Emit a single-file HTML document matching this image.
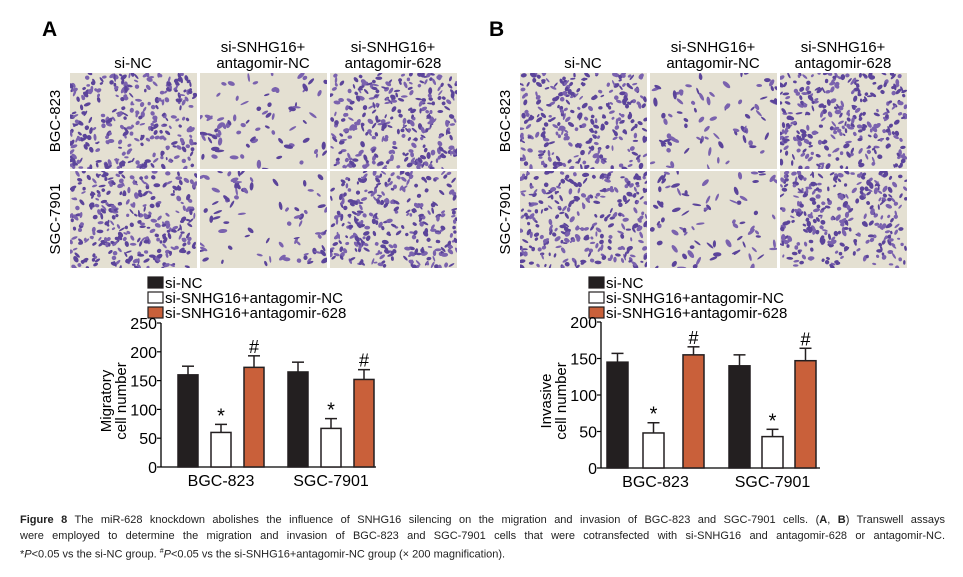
<!DOCTYPE html>
<html><head><meta charset="utf-8">
<style>
body{margin:0;background:#fff;width:963px;height:577px;overflow:hidden;font-family:"Liberation Sans",sans-serif;}
svg{position:absolute;left:0;top:0}
.cap{position:absolute;left:20px;width:925px;font-size:11px;line-height:16px;color:#222;white-space:nowrap}
.j{text-align:justify;text-align-last:justify}
</style></head><body>
<svg id="fig" width="963" height="577" font-family="Liberation Sans, sans-serif"></svg>
<div class="cap j" style="top:512px"><b>Figure 8</b> The miR-628 knockdown abolishes the influence of SNHG16 silencing on the migration and invasion of BGC-823 and SGC-7901 cells. (<b>A</b>, <b>B</b>) Transwell assays</div>
<div class="cap j" style="top:528px">were employed to determine the migration and invasion of BGC-823 and SGC-7901 cells that were cotransfected with si-SNHG16 and antagomir-628 or antagomir-NC.</div>
<div class="cap" style="top:544px">*<i>P</i>&lt;0.05 vs the si-NC group. <sup style="font-size:7px">#</sup><i>P</i>&lt;0.05 vs the si-SNHG16+antagomir-NC group (× 200 magnification).</div>
<script>
// Chart data
const groups = ["BGC-823","SGC-7901"];
const seriesNames = ["si-NC","si-SNHG16+antagomir-NC","si-SNHG16+antagomir-628"];
const migValues = [[160,60,173],[165,67,152]];
const migErrors = [[15,14,20],[17,17,17]];
const invValues = [[145,48,155],[140,43,147]];
const invErrors = [[12,14,11],[15,10,17]];
const migTicks = [0,50,100,150,200,250];
const invTicks = [0,50,100,150,200];
const marks = ["","*","#"];

const NS="http://www.w3.org/2000/svg";
const svg=document.getElementById('fig');
function el(tag,attrs,parent){const e=document.createElementNS(NS,tag);for(const k in attrs)e.setAttribute(k,attrs[k]);(parent||svg).appendChild(e);return e;}
function txt(s,attrs,parent){const e=el('text',attrs,parent);e.textContent=s;return e;}

// seeded PRNG for decorative micrograph texture
let seed=12345;function rnd(){seed=(seed*1103515245+12345)%2147483648;return seed/2147483648;}

function micro(x,y,w,h,n,big,name){
  const g=el('g',{});
  
  
  el('rect',{x:x,y:y,width:w,height:h,fill:'#e4e0d2'},g);
  const cp='c'+Math.floor(rnd()*1e6);
  const c=el('clipPath',{id:cp},g);el('rect',{x:x,y:y,width:w,height:h},c);
  const gg=el('g',{'clip-path':`url(#${cp})`},g);
  for(let i=0;i<n;i++){
    const cx=x+rnd()*w, cy=y+rnd()*h;
    const rx=(big?2.2:1.6)+rnd()*(big?2.5:2), ry=0.9+rnd()*1.4;
    el('ellipse',{cx:cx.toFixed(1),cy:cy.toFixed(1),rx:rx.toFixed(1),ry:ry.toFixed(1),transform:`rotate(${(rnd()*180).toFixed(0)} ${cx.toFixed(1)} ${cy.toFixed(1)})`,fill:rnd()<0.5?'#5b449a':'#7a62ae'},gg);
  }
}

function panel(ox,letter,rowN){
  txt(letter,{x:ox+(letter=="A"?-28:-31),y:36,'font-size':21,'font-weight':'bold'});
  const xs=[ox,ox+130,ox+260];
  const cols=[["si-NC"],["si-SNHG16+","antagomir-NC"],["si-SNHG16+","antagomir-628"]];
  cols.forEach((c,i)=>{
    c.forEach((s,j)=>{
      const t=txt(s,{x:xs[i]+63,y:c.length==1?68:(52+j*16),'font-size':15,'text-anchor':'middle'});
      
      
    });
  });
  const rows=["BGC-823","SGC-7901"];
  rows.forEach((r,j)=>{
    const cy=j==0?121:219;
    const t=txt(r,{x:0,y:0,'font-size':15,'text-anchor':'middle',transform:`translate(${ox-10},${cy}) rotate(-90)`});
    
    
    xs.forEach((x,i)=>micro(x,j==0?73:171,127,j==0?96:97,rowN[i],i==1,'micrograph'));
  });
}
panel(70,"A",[300,75,290]);
panel(520,"B",[280,80,290]);

const colors=['#231f20','#ffffff','#c9603a'];
function chart(cfg){
  const {axX,y0,yTop,max,ticks,vals,errs,barX,barW,endX,legX,title}=cfg;
  const ys=v=>y0-(v/max)*(y0-yTop);
  seriesNames.forEach((s,i)=>{
    const cy=283+i*15;
    const r=el('rect',{x:legX,y:cy-6,width:15,height:11,fill:colors[i],stroke:'#231f20','stroke-width':1.2});
    
    
    const t=txt(s,{x:legX+17,y:cy+5,'font-size':15});
    
    
  });
  const ya=el('line',{x1:axX,y1:yTop,x2:axX,y2:y0,stroke:'#000','stroke-width':1.3});
  
  
  const xa=el('line',{x1:axX,y1:y0,x2:endX,y2:y0,stroke:'#000','stroke-width':1.3});
  
  
  ticks.forEach(t=>{
    el('line',{x1:axX-4,y1:ys(t),x2:axX,y2:ys(t),stroke:'#000','stroke-width':1.2});
    const l=txt(String(t),{x:axX-4,y:ys(t)+6,'font-size':16,'text-anchor':'end'});
    
    
  });
  const tl=txt(title[0],{x:0,y:0,'font-size':15,'text-anchor':'middle',transform:`translate(${axX-50},${(y0+yTop)/2+6}) rotate(-90)`});
  
  
  const t2=txt(title[1],{x:0,y:0,'font-size':15,'text-anchor':'middle',transform:`translate(${axX-35},${(y0+yTop)/2+6}) rotate(-90)`});
  
  
  groups.forEach((gname,gi)=>{
    vals[gi].forEach((v,si)=>{
      const x=barX[gi][si];
      const top=ys(v+errs[gi][si]);
      el('line',{x1:x+barW/2,y1:ys(v),x2:x+barW/2,y2:top,stroke:'#231f20','stroke-width':1.5});
      el('line',{x1:x+barW/2-6,y1:top,x2:x+barW/2+6,y2:top,stroke:'#231f20','stroke-width':1.5});
      const b=el('rect',{x:x,y:ys(v),width:barW,height:y0-ys(v),fill:colors[si],stroke:'#231f20','stroke-width':1.5});
      
      
      if(marks[si]){
        const m=txt(marks[si],{x:x+barW/2,y:top-(si==1?-8:3),'font-size':si==1?20:18,'text-anchor':'middle'});
        if(si==1) m.setAttribute('y',top-2+8-8);
        
        
      }
    });
    const cx=(barX[gi][0]+barX[gi][2]+barW)/2;
    const gl=txt(gname,{x:cx,y:y0+19,'font-size':16,'text-anchor':'middle'});
    
    
  });
}
chart({axX:161,y0:467,yTop:323,max:250,ticks:migTicks,vals:migValues,errs:migErrors,barW:20,
  barX:[[178,211,244],[288,321,354]],endX:376,legX:148,title:["Migratory","cell number"]});
chart({axX:601,y0:468,yTop:322,max:200,ticks:invTicks,vals:invValues,errs:invErrors,barW:21,
  barX:[[607,643,683],[729,762,795]],endX:820,legX:589,title:["Invasive","cell number"]});
</script>
</body></html>
